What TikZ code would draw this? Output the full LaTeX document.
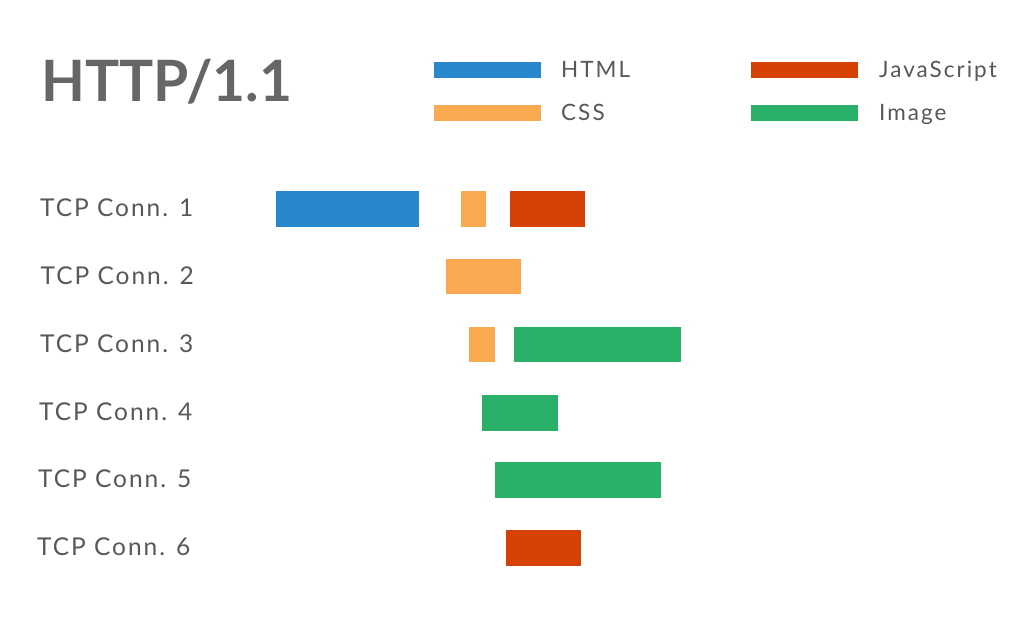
\documentclass[tikz,border=0pt]{standalone}
\usepackage{fontspec}
\setmainfont{Lato}
\newfontfamily\connfont[LetterSpace=8]{Lato}
\newfontfamily\keyfont[LetterSpace=9]{Lato}
\usepackage{xcolor}
\usepackage{tikz}
\usetikzlibrary{positioning}
\definecolor{htmlblue}{RGB}{39,136,204}
\definecolor{cssorange}{RGB}{249,169,79}
\definecolor{jsred}{RGB}{214,65,5}
\definecolor{imggreen}{RGB}{43,176,106}
\definecolor{labelgray}{RGB}{88,88,88}
\definecolor{titlegray}{RGB}{102,102,102}
\tikzstyle{bar} = [rectangle, anchor=north west, inner sep=0pt, minimum height=35.5pt]
\tikzstyle{keybar} = [rectangle, anchor=north west, inner sep=0pt, minimum width=107pt, minimum height=16pt]
\tikzstyle{conn} = [anchor=base west, inner sep=0pt, text=labelgray, font=\connfont\fontsize{24.5}{26}\selectfont]
\tikzstyle{keytext} = [anchor=base west, inner sep=0pt, text=labelgray, font=\keyfont\fontsize{22.5}{24}\selectfont]

\begin{document}
\begin{tikzpicture}[x=1pt, y=-1pt]
    \useasboundingbox [fill=white] (0,0) rectangle (1034,624);
    % Title
    \node (title) [anchor=base west, inner sep=0pt, text=titlegray, font=\bfseries\fontsize{57}{60}\selectfont] at (41,101.5) {HTTP/1.1};

    % Legend
    \node (khtml) [keybar, fill=htmlblue] at (434,62) {};
    \node (kcss) [keybar, fill=cssorange] at (434,105) {};
    \node (kjs) [keybar, fill=jsred] at (751,62) {};
    \node (kimg) [keybar, fill=imggreen] at (751,105) {};
    \node (thtml) [keytext] at (561,77) {HTML};
    \node (tcss) [keytext] at (561,120) {CSS};
    \node (tjs) [keytext] at (879,77) {JavaScript};
    \node (timg) [keytext] at (879,120) {Image};

    % Connection labels
    \node (conn1) [conn] at (40,216.5) {TCP Conn. 1};
    \node (conn2) [conn] at (40.5,284) {TCP Conn. 2};
    \node (conn3) [conn] at (40,352) {TCP Conn. 3};
    \node (conn4) [conn] at (39,420.5) {TCP Conn. 4};
    \node (conn5) [conn] at (38,487.5) {TCP Conn. 5};
    \node (conn6) [conn] at (37,555.5) {TCP Conn. 6};

    % Requests per connection
    \node (c1html) [bar, fill=htmlblue, minimum width=143pt] at (276,191) {};
    \node (c1css) [bar, fill=cssorange, minimum width=25.5pt] at (460.5,191) {};
    \node (c1js) [bar, fill=jsred, minimum width=75pt] at (509.5,191) {};
    \node (c2css) [bar, fill=cssorange, minimum width=75.5pt] at (445.5,258.5) {};
    \node (c3css) [bar, fill=cssorange, minimum width=26pt] at (468.5,326.5) {};
    \node (c3img) [bar, fill=imggreen, minimum width=167pt] at (513.5,326.5) {};
    \node (c4img) [bar, fill=imggreen, minimum width=76pt] at (481.5,395) {};
    \node (c5img) [bar, fill=imggreen, minimum width=166pt] at (494.5,462) {};
    \node (c6js) [bar, fill=jsred, minimum width=75pt] at (505.5,530) {};
\end{tikzpicture}
\end{document}
